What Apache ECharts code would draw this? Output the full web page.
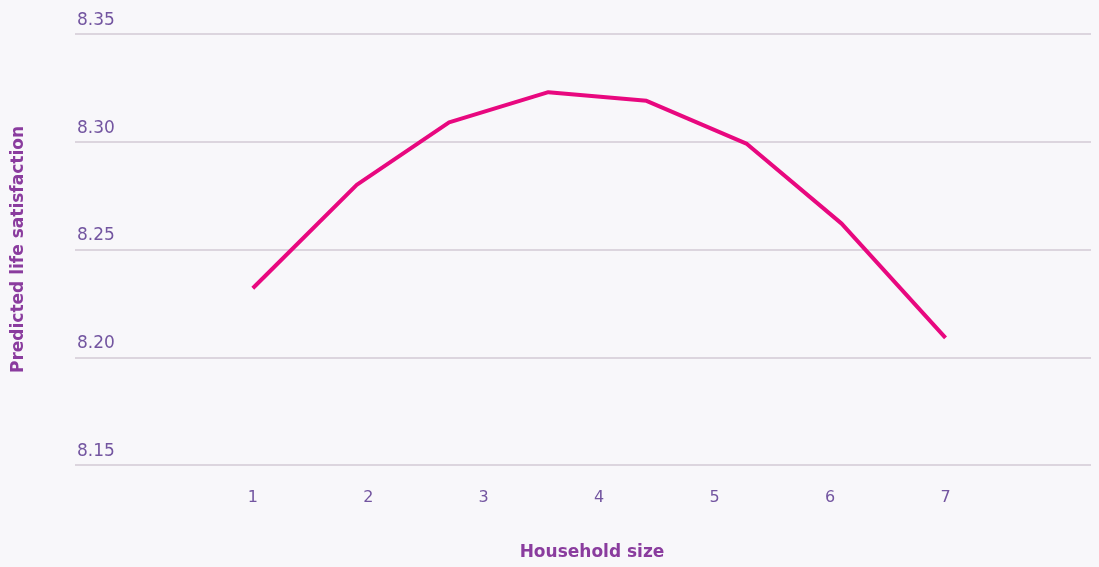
<!DOCTYPE html>
<html>
<head>
<meta charset="utf-8">
<script src="https://cdn.jsdelivr.net/npm/echarts@6/dist/echarts.min.js"></script>
<style>
html,body{margin:0;padding:0;background:#f8f7fa;}
#c{width:1099px;height:567px;}
</style>
</head>
<body>
<div id="c"></div>
<script>
// Data
const householdSize = [1, 1.9, 2.7, 3.56, 4.41, 5.28, 6.1, 7];
const lifeSatisfaction = [8.232, 8.280, 8.309, 8.323, 8.319, 8.299, 8.262, 8.209];
const xTickLabels = [1, 2, 3, 4, 5, 6, 7];
const yTicks = [8.15, 8.20, 8.25, 8.30, 8.35];

const chart = echarts.init(document.getElementById('c'), null, {renderer: 'canvas'});
const font = '"DejaVu Sans", "Noto Sans", sans-serif';
chart.setOption({
  backgroundColor: '#f8f7fa',
  animation: false,
  grid: {left: 75, right: 8, top: 34, bottom: 102, outerBoundsMode: 'none', containLabel: false},
  xAxis: {
    type: 'value',
    min: -0.54,
    max: 8.26,
    name: 'Household size',
    nameLocation: 'middle',
    nameGap: 79,
    nameTextStyle: {color: '#8a3c9e', fontSize: 17, fontWeight: 'bold', fontFamily: font, padding: [0, 0, 0, 18]},
    axisLine: {show: false},
    axisTick: {show: false},
    splitLine: {show: false},
    axisLabel: {
      customValues: xTickLabels,
      margin: 25,
      color: '#7355a0',
      fontSize: 16,
      fontFamily: font
    }
  },
  yAxis: {
    type: 'value',
    min: yTicks[0],
    max: yTicks[yTicks.length - 1],
    interval: 0.05,
    name: 'Predicted life satisfaction',
    nameLocation: 'middle',
    nameRotate: 90,
    nameGap: 48,
    nameTextStyle: {color: '#8a3c9e', fontSize: 17, fontWeight: 'bold', fontFamily: font},
    axisLine: {show: false},
    axisTick: {show: false},
    splitLine: {show: true, lineStyle: {color: '#dcd5de', width: 2}},
    axisLabel: {
      inside: true,
      margin: 2,
      verticalAlign: 'bottom',
      padding: [0, 0, 5, 0],
      color: '#7355a0',
      fontSize: 17,
      fontFamily: font,
      formatter: v => v.toFixed(2)
    }
  },
  series: [{
    type: 'line',
    data: householdSize.map((x, i) => [x, lifeSatisfaction[i]]),
    showSymbol: false,
    lineStyle: {color: '#e8087f', width: 4},
    itemStyle: {color: '#e8087f'}
  }]
});
</script>
</body>
</html>
